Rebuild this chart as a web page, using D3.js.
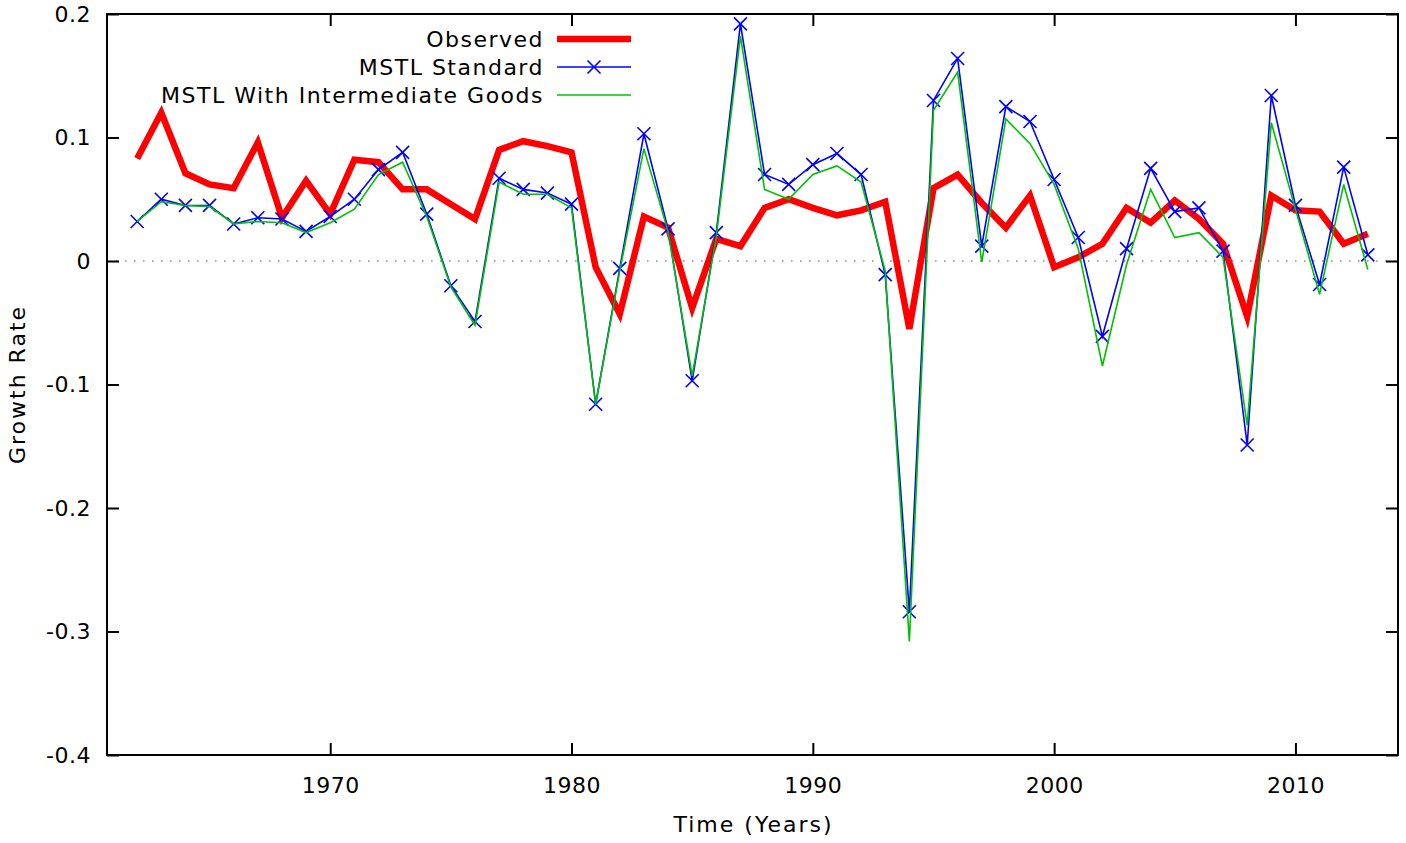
<!DOCTYPE html>
<html><head><meta charset="utf-8">
<script src="https://cdn.jsdelivr.net/npm/d3@7/dist/d3.min.js"></script>
<style>
html,body{margin:0;padding:0;background:#fff;}
svg{display:block;}
text{font-family:"DejaVu Sans",Verdana,sans-serif;fill:#000;}
</style></head><body>
<svg id="chart" width="1406" height="843"></svg>
<script>
const years = [1962,1963,1964,1965,1966,1967,1968,1969,1970,1971,1972,1973,1974,1975,1976,1977,1978,1979,1980,1981,1982,1983,1984,1985,1986,1987,1988,1989,1990,1991,1992,1993,1994,1995,1996,1997,1998,1999,2000,2001,2002,2003,2004,2005,2006,2007,2008,2009,2010,2011,2012,2013];
const observed = [0.083,0.120,0.071,0.062,0.059,0.096,0.035,0.065,0.038,0.082,0.080,0.058,0.058,0.046,0.034,0.090,0.097,0.093,0.088,-0.005,-0.043,0.036,0.027,-0.038,0.018,0.012,0.043,0.050,0.043,0.037,0.041,0.048,-0.055,0.059,0.070,0.047,0.027,0.053,-0.005,0.003,0.014,0.043,0.031,0.049,0.034,0.014,-0.045,0.053,0.041,0.040,0.014,0.022];
const mstlStandard = [0.032,0.050,0.045,0.045,0.030,0.035,0.034,0.024,0.036,0.050,0.074,0.088,0.038,-0.020,-0.049,0.067,0.058,0.055,0.046,-0.116,-0.006,0.103,0.026,-0.097,0.023,0.192,0.070,0.062,0.078,0.087,0.070,-0.011,-0.284,0.130,0.164,0.012,0.125,0.113,0.066,0.019,-0.061,0.010,0.075,0.040,0.043,0.008,-0.149,0.134,0.045,-0.019,0.076,0.005];
const mstlIntermediate = [0.032,0.048,0.045,0.044,0.030,0.032,0.031,0.023,0.031,0.042,0.070,0.080,0.036,-0.021,-0.052,0.064,0.054,0.054,0.043,-0.116,-0.008,0.091,0.024,-0.093,0.020,0.182,0.058,0.050,0.070,0.077,0.064,-0.008,-0.308,0.122,0.153,-0.001,0.115,0.095,0.062,0.010,-0.085,-0.003,0.058,0.019,0.023,0.003,-0.133,0.112,0.042,-0.027,0.062,-0.007];
const xTicks = [1970,1980,1990,2000,2010];
const yTicks = [-0.4,-0.3,-0.2,-0.1,0,0.1,0.2];
const yTickLabels = ["-0.4","-0.3","-0.2","-0.1","0","0.1","0.2"];
const seriesNames = ["Observed","MSTL Standard","MSTL With Intermediate Goods"];

const L=107, R=1398, T=14, B=755;
const svg = d3.select("#chart");
const x = d3.scaleLinear().domain([1960.75,2014.25]).range([L,R]);
const y = d3.scaleLinear().domain([-0.4,0.2]).range([B,T]);
const fs = 22, tick = 12;

// zero line
svg.append("line").attr("x1",L).attr("x2",R).attr("y1",y(0)).attr("y2",y(0))
  .attr("stroke","#8f8fa0").attr("stroke-width",1.6).attr("stroke-dasharray","1.6,7.4");

// axes (ticks inward, mirrored)
const axB = d3.axisBottom(x).tickValues(xTicks).tickSize(-tick).tickPadding(tick+10).tickFormat(d3.format("d"));
const axT = d3.axisTop(x).tickValues(xTicks).tickSize(-tick).tickFormat("");
const axL = d3.axisLeft(y).tickValues(yTicks).tickSize(-tick).tickPadding(tick+4).tickFormat((d,i)=>yTickLabels[i]);
const axR = d3.axisRight(y).tickValues(yTicks).tickSize(-tick).tickFormat("");
function style(g){
  g.select(".domain").remove();
  g.selectAll(".tick line").attr("stroke","#000").attr("stroke-width",2);
  g.selectAll(".tick text").attr("font-size",fs).attr("font-family","DejaVu Sans").attr("letter-spacing","0.5px");
}
svg.append("g").attr("transform",`translate(0,${B})`).call(axB).call(style);
svg.append("g").attr("transform",`translate(0,${T})`).call(axT).call(style);
svg.append("g").attr("transform",`translate(${L},0)`).call(axL).call(style);
svg.append("g").attr("transform",`translate(${R},0)`).call(axR).call(style);

svg.append("rect").attr("x",L).attr("y",T).attr("width",R-L).attr("height",B-T)
  .attr("fill","none").attr("stroke","#000").attr("stroke-width",2);

const line = d3.line().x((d,i)=>x(years[i])).y(d=>y(d));
svg.append("path").datum(observed).attr("d",line).attr("fill","none").attr("stroke","#ff0000").attr("stroke-width",6.5).attr("stroke-linejoin","miter");
svg.append("path").datum(mstlStandard).attr("d",line).attr("fill","none").attr("stroke","#0000ff").attr("stroke-width",1.6);
const cs = 6.5;
function cross(g,cx,cy){
  g.append("path").attr("d",`M${cx-cs},${cy-cs}L${cx+cs},${cy+cs}M${cx-cs},${cy+cs}L${cx+cs},${cy-cs}`)
   .attr("stroke","#0000ff").attr("stroke-width",1.6).attr("fill","none");
}
const marks = svg.append("g");
mstlStandard.forEach((v,i)=>cross(marks,x(years[i]),y(v)));
svg.append("path").datum(mstlIntermediate).attr("d",line).attr("fill","none").attr("stroke","#00c000").attr("stroke-width",1.6);

// legend
const legY = [39,67,95];
const legX1 = 557, legX2 = 631, legTextX = 544;
seriesNames.forEach((n,i)=>{
  svg.append("text").attr("x",legTextX).attr("y",legY[i]).attr("dy","0.36em").attr("text-anchor","end")
    .attr("font-size",fs).attr("letter-spacing","1.5px").text(n);
});
svg.append("line").attr("x1",legX1).attr("x2",legX2).attr("y1",legY[0]).attr("y2",legY[0]).attr("stroke","#ff0000").attr("stroke-width",6.5);
svg.append("line").attr("x1",legX1).attr("x2",legX2).attr("y1",legY[1]).attr("y2",legY[1]).attr("stroke","#0000ff").attr("stroke-width",1.6);
cross(svg,(legX1+legX2)/2,legY[1]);
svg.append("line").attr("x1",legX1).attr("x2",legX2).attr("y1",legY[2]).attr("y2",legY[2]).attr("stroke","#00c000").attr("stroke-width",1.6);

// axis titles
svg.append("text").attr("x",(L+R)/2+1).attr("y",832).attr("text-anchor","middle").attr("font-size",fs).attr("letter-spacing","2px").text("Time (Years)");
svg.append("text").attr("transform",`translate(25,${(T+B)/2}) rotate(-90)`).attr("text-anchor","middle").attr("font-size",fs).attr("letter-spacing","2px").text("Growth Rate");
</script>
</body></html>
